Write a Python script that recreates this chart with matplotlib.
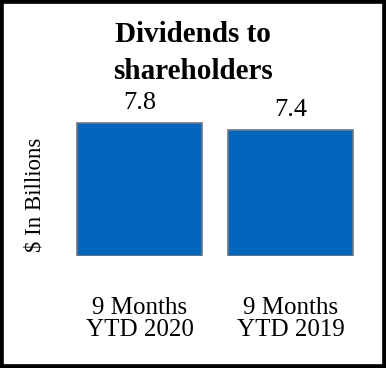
import matplotlib
matplotlib.use("Agg")
import matplotlib.pyplot as plt
from matplotlib.patches import Rectangle

# data
categories = ["9 Months\nYTD 2020", "9 Months\nYTD 2019"]
values = [7.8, 7.4]
value_labels = ["7.8", "7.4"]

plt.rcParams['font.family'] = ['Liberation Serif', 'DejaVu Serif']

W, H = 386, 368
fig = plt.figure(figsize=(W / 100, H / 100), dpi=100)
fig.patch.set_facecolor("white")

# axes placed in pixel terms: x 64..366, y-baseline at 256 px
ax = fig.add_axes([64 / W, 1 - 256 / H, 302 / W, 136.4 / H])
x = range(len(values))
ax.bar(x, values, width=0.825, color="#0366BC", edgecolor="#707784", linewidth=1.2)
ax.set_xlim(-0.5, 1.5)
ax.set_ylim(0, 8)

for xi, v, lab in zip(x, values, value_labels):
    ax.annotate(lab, (xi, v), xytext=(0, 10), textcoords="offset points",
                ha="center", va="baseline", fontsize=19)

ax.set_xticks(list(x))
ax.set_xticklabels(categories, fontsize=18, linespacing=1.0)
ax.tick_params(axis="x", length=0, pad=29.5)
ax.set_yticks([])
for s in ax.spines.values():
    s.set_visible(False)
ax.patch.set_visible(False)

fig.text(35 / W, 1 - 195 / H, "$ In Billions", rotation=90,
         ha="center", va="center", fontsize=16.5)

fig.text(0.5, 1 - 42 / H, "Dividends to", ha="center", va="baseline",
         fontsize=21, fontweight="bold")
fig.text(0.5, 1 - 79 / H, "shareholders", ha="center", va="baseline",
         fontsize=21, fontweight="bold")

# outer frame
fig.patches.append(Rectangle((0, 0), 1, 1, transform=fig.transFigure,
                             fill=False, edgecolor="black", linewidth=5.5))

fig.savefig("out.png", dpi=100)
